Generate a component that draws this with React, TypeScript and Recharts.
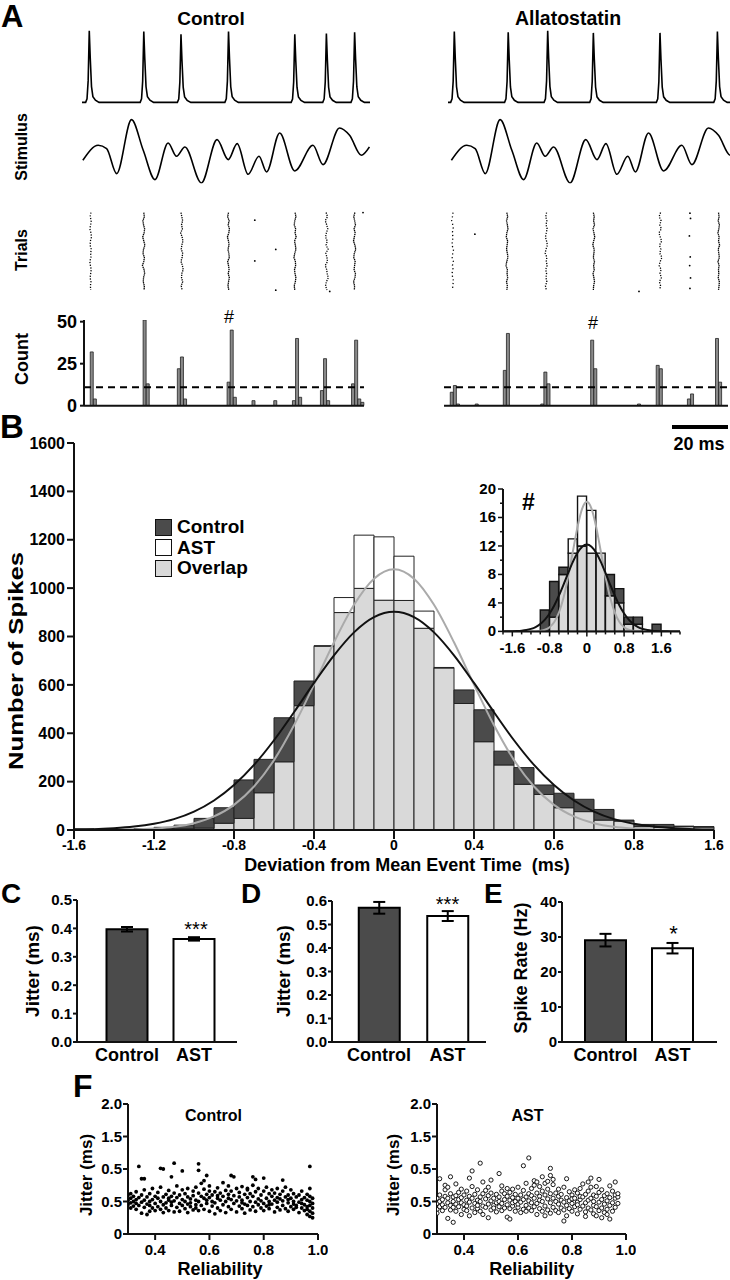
import React from 'react';
import {
  ComposedChart, LineChart, BarChart, ScatterChart, Line, Bar, Scatter, Cell,
  XAxis, YAxis, ReferenceLine, ErrorBar, Legend,
} from 'recharts';

const FONT = "'Liberation Sans', Arial, Helvetica, sans-serif";
const INK = '#111';
const DARK = '#4b4b4b';
const LIGHT = '#d9d9d9';
const FIT_GREY = '#aaaaaa';
const COUNT_GREY = '#8a8a8a';

// ---------- A: voltage traces (ms, % of spike height) ----------
const ctrlSpikeTimes = [2.6, 22.1, 35.4, 52.4, 76.1, 87.4, 97.5];
const ctrlSpikePeaks = [99, 98, 94, 98, 94, 95, 97];
const astSpikeTimes = [2.25, 21.5, 35.6, 51.9, 75.7, 96.2];
const astSpikePeaks = [98, 97, 99, 96, 96, 98];
// spike waveform: ms from peak, fraction of peak
const spikeShapeT = [-1.3, -0.8, -0.4, 0, 0.35, 0.8, 1.3, 2.2, 3.5];
const spikeShapeV = [0, 0.05, 0.3, 1, 0.62, 0.22, 0.08, 0.03, 0];

// ---------- A: stimulus ----------
const stimT = [0.3, 5.8, 8.8, 12.4, 17.7, 21.9, 26.1, 30.8, 33.8, 36.8, 42.7, 48.3, 52.3, 55.5, 59.4, 63.3, 66.0, 70.7, 76.1, 82.6, 86.2, 92.1, 95.7, 99.9, 102.8];
const stimV = [7.0, 11.5, 10.5, 3.0, 19.2, 10.0, 1.2, 12.2, 8.2, 11.0, 0.2, 13.2, 7.2, 12.0, 2.8, 8.2, 3.5, 15.2, 3.8, 11.5, 5.7, 16.7, 14.5, 8.5, 11.0];

// ---------- A: rasters (spike time per trial, ms offsets from column time) ----------
const ctrlRaster = [
  { t: 3.0, dash: '1.2 1.6', jit: [0.2, -0.1, 0.3, 0.1, -0.2, 0.2, 0.4, 0.0, -0.1, 0.3, 0.1, 0.2, -0.2, 0.0, 0.3, 0.1, -0.1, 0.2, 0.0, 0.1] },
  { t: 22.0, dash: '1.4 0.6', jit: [0.1, 0.3, -0.2, 0.0, 0.4, 0.2, -0.3, 0.1, 0.5, 0.0, -0.2, 0.3, 0.1, -0.4, 0.2, 0.4, 0.0, -0.1, 0.3, 0.2] },
  { t: 35.6, dash: '1.3 1', jit: [-0.2, 0.1, 0.4, 0.0, 0.3, -0.3, 0.2, 0.5, 0.1, -0.1, 0.4, 0.2, -0.2, 0.3, 0.6, 0.1, 0.0, 0.4, -0.1, 0.2] },
  { t: 52.4, dash: '1.4 0.6', jit: [0.0, -0.3, 0.2, -0.1, 0.3, 0.1, -0.4, 0.0, 0.2, -0.2, 0.1, 0.3, -0.3, 0.0, 0.2, -0.1, 0.3, 0.0, -0.2, 0.1] },
  { t: 76.1, dash: '1.4 0.6', jit: [0.1, 0.4, 0.0, -0.2, 0.3, 0.1, 0.5, -0.1, 0.2, 0.4, 0.0, -0.3, 0.2, 0.3, -0.1, 0.1, 0.4, 0.2, -0.2, 0.0] },
  { t: 87.3, dash: '1.2 1.2', jit: [0.0, 0.5, -0.3, 0.2, 0.6, 0.1, -0.2, 0.4, 0.0, 0.7, -0.1, 0.3, 0.5, -0.3, 0.2, 0.4, 0.8, 0.1, -0.2, 0.3] },
  { t: 97.4, dash: '1.4 0.6', jit: [0.2, -0.2, 0.1, 0.4, -0.1, 0.3, 0.0, -0.3, 0.2, 0.5, 0.0, -0.2, 0.3, 0.1, -0.1, 0.4, 0.2, -0.3, 0.1, 0.0] },
];
const ctrlRasterDots = [[61.8, 8], [61.8, 40], [69.3, 31], [69.3, 63], [100.5, 2], [88.6, 64]];
const astRaster = [
  { t: 1.6, dash: '1.2 2.6', jit: [0.2, 0.0, -0.3, 0.1, 0.3, -0.1, 0.2, 0.0, -0.2, 0.4, 0.1, -0.1, 0.3, 0.0, 0.2, -0.2, 0.1, 0.4, 0.0, 0.2] },
  { t: 21.0, dash: '1.4 0.6', jit: [0.0, 0.3, -0.1, 0.2, 0.4, 0.0, -0.2, 0.3, 0.1, -0.1, 0.2, 0.4, 0.0, -0.3, 0.2, 0.1, 0.3, -0.1, 0.2, 0.0] },
  { t: 35.0, dash: '1.2 1.4', jit: [0.2, -0.1, 0.3, 0.0, 0.4, 0.1, -0.2, 0.2, 0.5, 0.0, -0.3, 0.3, 0.1, 0.4, -0.1, 0.2, 0.0, 0.3, -0.2, 0.1] },
  { t: 52.0, dash: '1.4 0.6', jit: [-0.1, 0.2, 0.0, 0.3, -0.2, 0.1, 0.4, 0.0, -0.3, 0.2, 0.1, -0.1, 0.3, 0.0, 0.2, -0.2, 0.1, 0.3, 0.0, -0.1] },
  { t: 75.6, dash: '1.2 1.4', jit: [0.3, -0.2, 0.5, 0.0, 0.6, -0.3, 0.2, 0.7, -0.1, 0.4, 0.0, 0.8, 0.2, -0.2, 0.5, 0.1, 0.6, -0.1, 0.3, 0.0] },
  { t: 96.6, dash: '1.4 0.6', jit: [0.0, 0.2, -0.1, 0.3, 0.1, -0.2, 0.2, 0.0, 0.4, -0.1, 0.1, 0.3, -0.2, 0.2, 0.0, 0.1, -0.1, 0.3, 0.2, 0.0] },
];
const astRasterDots = [[9.6, 19], [68.2, 64], [86.4, 2.5], [86.6, 6.6], [86.2, 20.4], [86.5, 36.9], [86.3, 43.7], [86.6, 53.4], [86.4, 61.6]];

// ---------- A: spike count histograms (bin index, count) ----------
const ctrlCountBins = 90;
const ctrlCountHits = [[2, 32], [3, 4], [19, 51], [20, 13], [30, 22], [31, 29], [32, 4], [46, 14], [47, 45], [48, 5], [54, 3], [61, 3], [67, 3], [68, 40], [69, 5], [76, 9], [77, 28], [78, 3], [86, 13], [87, 39], [88, 4], [89, 2]];
const astCountBins = 91;
const astCountHits = [[2, 8], [3, 12], [4, 1], [10, 1], [19, 21], [20, 43], [31, 1], [32, 20], [33, 13], [47, 39], [48, 22], [62, 1], [68, 24], [69, 22], [78, 4], [79, 7], [87, 40], [88, 14]];
const countThreshold = 11;
const countTicks = [0, 25, 50];

// ---------- B: deviation histogram ----------
const bBinEdges = [-1.6, -1.5, -1.4, -1.3, -1.2, -1.1, -1.0, -0.9, -0.8, -0.7, -0.6, -0.5, -0.4, -0.3, -0.2, -0.1, 0, 0.1, 0.2, 0.3, 0.4, 0.5, 0.6, 0.7, 0.8, 0.9, 1.0, 1.1, 1.2, 1.3, 1.4, 1.5];
const bCtrl = [4, 3, 3, 6, 11, 20, 48, 92, 207, 292, 464, 616, 760, 899, 999, 950, 949, 834, 670, 579, 497, 326, 258, 186, 152, 127, 85, 41, 23, 23, 16, 14];
const bAst = [3, 2, 2, 4, 6, 5, 8, 28, 48, 154, 282, 514, 762, 961, 1219, 1212, 1132, 905, 672, 523, 365, 269, 189, 147, 92, 76, 41, 37, 14, 11, 14, 12];
const bFitX = [-1.6, -1.5, -1.4, -1.3, -1.2, -1.1, -1.0, -0.9, -0.8, -0.7, -0.6, -0.5, -0.4, -0.3, -0.2, -0.1, 0, 0.1, 0.2, 0.3, 0.4, 0.5, 0.6, 0.7, 0.8, 0.9, 1.0, 1.1, 1.2, 1.3, 1.4, 1.5, 1.6];
const bCtrlFit = [2, 3, 7, 14, 26, 45, 76, 122, 186, 269, 371, 487, 608, 722, 817, 880, 902, 880, 817, 722, 608, 487, 371, 269, 186, 122, 76, 45, 26, 14, 7, 3, 2];
const bAstFit = [0, 0, 1, 2, 6, 13, 28, 56, 104, 180, 289, 433, 601, 776, 931, 1039, 1078, 1039, 931, 776, 601, 433, 289, 180, 104, 56, 28, 13, 6, 2, 1, 0, 0];
const bXTicks = [-1.6, -1.2, -0.8, -0.4, 0, 0.4, 0.8, 1.2, 1.6];
const bXTickLabels = ['-1.6', '-1.2', '-0.8', '-0.4', '0', '0.4', '0.6', '0.8', '1.6'];
const bYTicks = [0, 200, 400, 600, 800, 1000, 1200, 1400, 1600];
const legendItems = [
  { label: 'Control', fill: DARK },
  { label: 'AST', fill: '#ffffff' },
  { label: 'Overlap', fill: LIGHT },
];

// ---------- B inset (# event) ----------
const insetEdges = [-1.8, -1.6, -1.4, -1.2, -1.0, -0.8, -0.6, -0.4, -0.2, 0, 0.2, 0.4, 0.6, 0.8, 1.0, 1.2, 1.4, 1.6, 1.8];
const insetCtrl = [0, 0, 0, 0, 3, 7, 9, 11, 12, 11, 11, 8, 6, 2, 2, 0, 1, 0, 0];
const insetAst = [0, 0, 0, 0, 0, 2, 8, 13, 19, 17, 11, 5, 4, 1, 1, 0, 0, 0, 0];
const insetFitX = [-1.8, -1.7, -1.6, -1.5, -1.4, -1.3, -1.2, -1.1, -1.0, -0.9, -0.8, -0.7, -0.6, -0.5, -0.4, -0.3, -0.2, -0.1, 0, 0.1, 0.2, 0.3, 0.4, 0.5, 0.6, 0.7, 0.8, 0.9, 1.0, 1.1, 1.2, 1.3, 1.4, 1.5, 1.6, 1.7, 1.8, 1.9, 2.0];
const insetCtrlFit = [0, 0.01, 0.02, 0.05, 0.1, 0.19, 0.35, 0.61, 1.03, 1.65, 2.51, 3.64, 5.02, 6.58, 8.22, 9.77, 11.05, 11.9, 12.2, 11.9, 11.05, 9.77, 8.22, 6.58, 5.02, 3.64, 2.51, 1.65, 1.03, 0.61, 0.35, 0.19, 0.1, 0.05, 0.02, 0.01, 0, 0, 0];
const insetAstFit = [0, 0, 0, 0, 0, 0, 0, 0, 0.08, 0.23, 0.58, 1.31, 2.63, 4.75, 7.7, 11.22, 14.68, 17.25, 18.2, 17.25, 14.68, 11.22, 7.7, 4.75, 2.63, 1.31, 0.58, 0.23, 0.08, 0, 0, 0, 0, 0, 0, 0, 0, 0, 0];
const insetXTicks = [-1.8, -1.6, -1.4, -1.2, -1.0, -0.8, -0.6, -0.4, -0.2, 0, 0.2, 0.4, 0.6, 0.8, 1.0, 1.2, 1.4, 1.6, 1.8, 2.0];
const insetXLabeled = [-1.6, -0.8, 0, 0.8, 1.6];
const insetXLabels = ['-1.6', '-0.8', '0', '0.8', '1.6'];
const insetYTicks = [0, 2, 4, 6, 8, 10, 12, 14, 16, 18, 20];
const insetYLabeled = [0, 4, 8, 12, 16, 20];
const insetYLabels = ['0', '4', '8', '12', '16', '20'];

// ---------- C, D, E ----------
const groups = ['Control', 'AST'];
const jitterCMean = [0.397, 0.363];
const jitterCSem = [0.008, 0.006];
const cTicks = [0, 0.1, 0.2, 0.3, 0.4, 0.5];
const cTickLabels = ['0.0', '0.1', '0.2', '0.3', '0.4', '0.5'];
const jitterDMean = [0.571, 0.536];
const jitterDSem = [0.025, 0.021];
const dTicks = [0, 0.1, 0.2, 0.3, 0.4, 0.5, 0.6];
const dTickLabels = ['0.0', '0.1', '0.2', '0.3', '0.4', '0.5', '0.6'];
const rateMean = [29.1, 26.8];
const rateSem = [1.8, 1.5];
const eTicks = [0, 10, 20, 30, 40];
const eTickLabels = ['0', '10', '20', '30', '40'];
const groupFills = [DARK, '#ffffff'];

// ---------- F: jitter vs reliability (reliability, jitters at that reliability) ----------
const fCtrl: [number, number[]][] = [
  [0.30, [0.45, 0.52, 0.60]], [0.31, [0.40, 0.55, 0.48, 0.62]], [0.32, [0.43, 0.50, 0.58]], [0.33, [0.38, 0.47, 0.65, 0.53]],
  [0.34, [1.04, 0.44, 0.56]], [0.35, [0.32, 0.49, 0.60, 0.85]], [0.36, [0.41, 0.52, 0.85, 0.68]], [0.37, [0.30, 0.46, 0.57]],
  [0.38, [0.35, 0.50, 0.62, 0.44]], [0.39, [0.40, 0.53, 0.70]], [0.40, [0.47, 0.58, 0.36]], [0.41, [0.42, 0.55, 0.64]],
  [0.42, [1.01, 0.38, 0.50, 0.72]], [0.43, [1.00, 0.45, 0.57, 0.33]], [0.44, [0.48, 0.61, 0.40]], [0.45, [0.36, 0.52, 0.67, 0.55]],
  [0.46, [0.88, 0.44, 0.58, 0.49]], [0.47, [1.09, 0.34, 0.51, 0.63]], [0.48, [0.41, 0.56, 0.74]], [0.49, [0.35, 0.47, 0.60]],
  [0.50, [0.97, 0.44, 0.53, 0.68]], [0.51, [0.39, 0.50, 0.62]], [0.52, [0.33, 0.46, 0.57, 0.70]], [0.53, [0.42, 0.54, 0.48]],
  [0.54, [0.37, 0.59, 0.66]], [0.55, [0.45, 0.52, 0.72, 0.40]], [0.56, [1.08, 0.98, 0.50, 0.63, 0.36]], [0.57, [0.44, 0.58, 0.78]],
  [0.58, [0.38, 0.55, 0.69, 0.82]], [0.59, [0.90, 0.47, 0.61, 0.52]], [0.60, [0.35, 0.56, 0.74, 0.66]], [0.61, [0.43, 0.60, 0.50]],
  [0.62, [0.31, 0.48, 0.65]], [0.63, [0.40, 0.55, 0.71, 0.59]], [0.64, [0.36, 0.52, 0.63]], [0.65, [0.45, 0.58, 0.79]],
  [0.66, [0.33, 0.50, 0.67]], [0.67, [0.42, 0.61, 0.74, 0.55]], [0.68, [0.90, 0.38, 0.53, 0.66]], [0.69, [0.88, 0.47, 0.59]],
  [0.70, [0.34, 0.51, 0.70]], [0.71, [0.43, 0.57, 0.64]], [0.72, [0.39, 0.52, 0.73, 0.48]], [0.73, [0.32, 0.46, 0.61]],
  [0.74, [0.44, 0.56, 0.68, 0.70]], [0.75, [0.37, 0.50, 0.62]], [0.76, [0.42, 0.58, 0.75, 0.88]], [0.77, [0.35, 0.49, 0.65, 0.84]],
  [0.78, [0.45, 0.54, 0.70]], [0.79, [0.40, 0.60, 0.51]], [0.80, [0.86, 0.36, 0.47, 0.66]], [0.81, [0.43, 0.55, 0.72]],
  [0.82, [0.39, 0.50, 0.62, 0.45]], [0.83, [0.46, 0.58, 0.68]], [0.84, [0.34, 0.52, 0.63]], [0.85, [0.41, 0.49, 0.70, 0.56]],
  [0.86, [0.37, 0.54, 0.61]], [0.87, [0.44, 0.51, 0.66, 0.83]], [0.88, [0.39, 0.57, 0.72]], [0.89, [0.35, 0.48, 0.60, 0.53]],
  [0.90, [0.42, 0.55, 0.68]], [0.91, [0.38, 0.50, 0.62, 0.46]], [0.92, [0.44, 0.57, 0.41]], [0.93, [0.33, 0.49, 0.60]],
  [0.94, [0.40, 0.53, 0.66, 0.47]], [0.95, [0.36, 0.45, 0.56]], [0.96, [0.30, 0.42, 0.52, 0.61, 0.38]],
  [0.97, [1.04, 0.27, 0.35, 0.44, 0.50, 0.58, 0.70]], [0.98, [0.25, 0.32, 0.40, 0.47, 0.55]],
];
const fAst: [number, number[]][] = [
  [0.30, [0.38, 0.47, 0.55, 0.32]], [0.31, [0.85, 0.42, 0.60, 0.50]], [0.32, [0.36, 0.53, 0.45]], [0.33, [0.41, 0.58, 0.68, 0.75]],
  [0.34, [0.24, 0.48, 0.55, 0.72]], [0.35, [0.88, 0.37, 0.44, 0.62]], [0.36, [0.18, 0.50, 0.41, 0.57]], [0.37, [0.35, 0.46, 0.59, 0.77]],
  [0.38, [0.42, 0.53, 0.64]], [0.39, [0.30, 0.48, 0.56, 0.69]], [0.40, [0.38, 0.45, 0.60]], [0.41, [0.43, 0.52, 0.66, 0.36]],
  [0.42, [0.28, 0.49, 0.58, 0.86]], [0.43, [0.97, 0.40, 0.55, 0.73]], [0.44, [0.33, 0.47, 0.61]], [0.45, [0.39, 0.52, 0.68, 0.44]],
  [0.46, [1.09, 0.35, 0.57, 0.50]], [0.47, [0.30, 0.43, 0.62, 0.80]], [0.48, [0.41, 0.54, 0.67]], [0.49, [0.25, 0.46, 0.59, 0.72]],
  [0.50, [0.37, 0.51, 0.63, 0.83]], [0.51, [0.44, 0.55, 0.40]], [0.52, [0.34, 0.48, 0.61]], [0.53, [0.93, 0.42, 0.57, 0.50]],
  [0.54, [0.36, 0.47, 0.66, 0.74]], [0.55, [0.40, 0.53, 0.62]], [0.56, [0.26, 0.45, 0.58, 0.70]], [0.57, [0.23, 0.39, 0.52, 0.64]],
  [0.58, [0.43, 0.56, 0.69, 0.48]], [0.59, [0.35, 0.50, 0.61]], [0.60, [0.41, 0.55, 0.72, 0.46]], [0.61, [0.33, 0.49, 0.60]],
  [0.62, [1.05, 0.38, 0.53, 0.67]], [0.63, [0.44, 0.57, 0.78, 0.35]], [0.64, [1.17, 0.40, 0.51, 0.62]], [0.65, [0.36, 0.48, 0.70, 0.59]],
  [0.66, [0.42, 0.55, 0.82, 0.75]], [0.67, [0.30, 0.47, 0.63, 0.80]], [0.68, [0.39, 0.58, 0.73, 0.52]], [0.69, [0.35, 0.50, 0.66, 0.88]],
  [0.70, [0.43, 0.60, 0.78, 0.28]], [0.71, [0.37, 0.54, 0.69, 0.81]], [0.72, [1.01, 0.32, 0.48, 0.62, 0.90]], [0.73, [0.41, 0.55, 0.84, 0.76]],
  [0.74, [0.36, 0.50, 0.63]], [0.75, [0.33, 0.46, 0.58, 0.69]], [0.76, [0.40, 0.52, 0.61]], [0.77, [0.20, 0.37, 0.49, 0.72]],
  [0.78, [0.28, 0.44, 0.56, 0.85]], [0.79, [0.39, 0.51, 0.65]], [0.80, [0.35, 0.47, 0.60, 0.54]], [0.81, [0.42, 0.55, 0.68]],
  [0.82, [0.31, 0.49, 0.63, 0.45]], [0.83, [0.38, 0.53, 0.70, 0.58]], [0.84, [0.43, 0.57, 0.77]], [0.85, [0.34, 0.48, 0.61, 0.27]],
  [0.86, [0.40, 0.52, 0.66, 0.80]], [0.87, [0.37, 0.55, 0.72, 0.86]], [0.88, [0.31, 0.44, 0.60, 0.50]], [0.89, [0.28, 0.42, 0.58, 0.73]],
  [0.90, [0.36, 0.49, 0.64, 0.84]], [0.91, [0.25, 0.40, 0.53, 0.68]], [0.92, [0.33, 0.46, 0.59]], [0.93, [0.38, 0.51, 0.62, 0.30]],
  [0.94, [0.23, 0.44, 0.56, 0.74]], [0.95, [0.35, 0.48, 0.66]], [0.96, [0.41, 0.55, 0.80, 0.60]], [0.97, [0.47, 0.57, 0.62]],
];
const fXTicks = [0.4, 0.6, 0.8, 1.0];
const fXTickLabels = ['0.4', '0.6', '0.8', '1.0'];
const fYTicks = [0, 0.5, 1, 1.5, 2];
const fYTickLabels = ['0', '0.5', '0.5', '1.5', '2.0'];

// ---------- tables built from the arrays ----------
const buildTrace = (times: number[], peaks: number[], end: number) => {
  const pts = [{ t: 0, v: 0 }];
  times.forEach((ts, i) => spikeShapeT.forEach((dt, k) => pts.push({ t: ts + dt, v: spikeShapeV[k] * peaks[i] })));
  pts.push({ t: end, v: 0 });
  return pts;
};
const ctrlTrace = buildTrace(ctrlSpikeTimes, ctrlSpikePeaks, 103);
const astTrace = buildTrace(astSpikeTimes, astSpikePeaks, 100.7);
const stimData = stimT.map((t, i) => ({ t, v: stimV[i] }));
const rasterLine = (col: { t: number; jit: number[] }) => col.jit.map((j, i) => ({ t: col.t + j, trial: 2 + i * 3.2 }));
const dotsData = (d: number[][]) => d.map(([t, trial]) => ({ t, trial }));
const countData = (n: number, hits: number[][]) => {
  const arr = Array.from({ length: n }, (_, i) => ({ bin: i, n: 0 }));
  hits.forEach(([i, c]) => { arr[i].n = c; });
  return arr;
};
const ctrlCounts = countData(ctrlCountBins, ctrlCountHits);
const astCounts = countData(astCountBins, astCountHits);
const overlapRows = (edges: number[], c: number[], a: number[]) => edges.map((e, i) => ({
  bin: e,
  overlap: Math.min(c[i], a[i]),
  excess: Math.abs(c[i] - a[i]),
  excessFill: c[i] > a[i] ? DARK : '#ffffff',
}));
const histData = overlapRows(bBinEdges, bCtrl, bAst);
const insetData = overlapRows(insetEdges, insetCtrl, insetAst);
const curve = (xs: number[], vs: number[]) => xs.map((x, i) => ({ x, v: vs[i] }));
const groupRows = (mean: number[], sem: number[]) => groups.map((g, i) => ({ group: g, mean: mean[i], sem: sem[i] }));
const flatScatter = (d: [number, number[]][]) => d.flatMap(([rel, js]) => js.map((jit) => ({ rel, jit })));

// ---------- layout helpers ----------
const frame = (x0: number, y0: number, x1: number, y1: number, yw = 0, xh = 0, pad = 6) => ({
  style: { position: 'absolute' as const, left: x0 - yw - pad, top: y0 - pad },
  width: x1 - x0 + yw + 2 * pad,
  height: y1 - y0 + xh + 2 * pad,
  margin: { top: pad, right: pad, bottom: pad, left: pad },
});
const axisStyle = { stroke: INK, strokeWidth: 2 };
const tickFont = (size: number) => ({ fill: '#000', fontFamily: FONT, fontWeight: 'bold' as const, fontSize: size });

const NoDot = () => <g />;
const RasterDot = (p: any) => <circle cx={p.cx} cy={p.cy} r={0.9} fill="#000" />;
const FilledDot = (p: any) => <circle cx={p.cx} cy={p.cy} r={1.9} fill="#000" />;
const OpenDot = (p: any) => <circle cx={p.cx} cy={p.cy} r={2.1} fill="#fff" stroke="#000" strokeWidth={0.9} />;

const InsetXTick = (p: any) => {
  const k = insetXLabeled.indexOf(p.payload.value);
  return (
    <g>
      <line x1={p.x} y1={p.y} x2={p.x} y2={p.y + (k >= 0 ? 5 : 3)} stroke={INK} strokeWidth={1.5} />
      {k >= 0 && (
        <text x={p.x} y={p.y + 22} textAnchor="middle" fontSize={15} fontWeight="bold" fontFamily={FONT} fill="#000">{insetXLabels[k]}</text>
      )}
    </g>
  );
};
const InsetYTick = (p: any) => {
  const k = insetYLabeled.indexOf(p.payload.value);
  return (
    <g>
      <line x1={p.x - (k >= 0 ? 5 : 3)} y1={p.y} x2={p.x} y2={p.y} stroke={INK} strokeWidth={1.5} />
      {k >= 0 && (
        <text x={p.x - 7} y={p.y + 5} textAnchor="end" fontSize={15} fontWeight="bold" fontFamily={FONT} fill="#000">{insetYLabels[k]}</text>
      )}
    </g>
  );
};

const HistLegend = () => (
  <div style={{ fontFamily: FONT, fontWeight: 'bold', fontSize: 19, color: '#000' }}>
    {legendItems.map((it) => (
      <div key={it.label} style={{ display: 'flex', alignItems: 'center', height: 20.5 }}>
        <span style={{ display: 'inline-block', width: 15, height: 15, background: it.fill, border: '1.5px solid #111', marginRight: 5 }} />
        {it.label}
      </div>
    ))}
  </div>
);

const Label = ({ x, y, size, children, anchor = 'middle', rotate = false, weight = 'bold', len }: any) => (
  <text
    x={x} y={y} fontSize={size} fontWeight={weight} textAnchor={anchor} fontFamily={FONT} fill="#000"
    transform={rotate ? `rotate(-90 ${x} ${y})` : undefined}
    textLength={len} lengthAdjust={len ? 'spacingAndGlyphs' : undefined}
    style={{ whiteSpace: 'pre' }}
  >
    {children}
  </text>
);

// ---------- chart pieces ----------
const Trace = ({ f, data, domain }: any) => (
  <div style={f.style}>
    <LineChart width={f.width} height={f.height} margin={f.margin} data={data}>
      <XAxis type="number" dataKey="t" domain={domain} hide allowDataOverflow />
      <YAxis type="number" domain={[-5, 100]} hide allowDataOverflow />
      <Line type="linear" dataKey="v" stroke="#000" strokeWidth={1.6} dot={false} isAnimationActive={false} />
    </LineChart>
  </div>
);

const Stim = ({ f, domain }: any) => (
  <div style={f.style}>
    <LineChart width={f.width} height={f.height} margin={f.margin} data={stimData}>
      <XAxis type="number" dataKey="t" domain={domain} hide allowDataOverflow />
      <YAxis type="number" domain={[0, 20]} hide allowDataOverflow />
      <Line type="monotone" dataKey="v" stroke="#000" strokeWidth={1.6} dot={false} isAnimationActive={false} />
    </LineChart>
  </div>
);

const Raster = ({ f, cols, dots, domain }: any) => (
  <div style={f.style}>
    <ScatterChart width={f.width} height={f.height} margin={f.margin}>
      <XAxis type="number" dataKey="t" domain={domain} hide allowDataOverflow />
      <YAxis type="number" dataKey="trial" domain={[0, 66]} reversed hide allowDataOverflow />
      {cols.map((col: any, i: number) => (
        <Scatter key={i} data={rasterLine(col)} shape={NoDot} line={{ stroke: '#000', strokeWidth: 1.3, strokeDasharray: col.dash }} isAnimationActive={false} />
      ))}
      <Scatter data={dotsData(dots)} shape={RasterDot} isAnimationActive={false} />
    </ScatterChart>
  </div>
);

const Counts = ({ f, data, showY }: any) => (
  <div style={f.style}>
    <BarChart width={f.width} height={f.height} margin={f.margin} data={data} barCategoryGap={0} barGap={0}>
      <XAxis dataKey="bin" tick={false} tickLine={false} axisLine={axisStyle} height={2} />
      <YAxis
        domain={[0, 51]} ticks={countTicks} interval={0} width={showY ? 40 : 0} hide={!showY}
        tickSize={4} tickMargin={3} axisLine={axisStyle} tickLine={axisStyle} tick={tickFont(18)} allowDataOverflow
      />
      <Bar dataKey="n" fill={COUNT_GREY} stroke="#222" strokeWidth={0.8} isAnimationActive={false} />
      <ReferenceLine y={countThreshold} stroke="#000" strokeWidth={2} strokeDasharray="7 5" />
    </BarChart>
  </div>
);

const GroupBars = ({ f, data, domain, ticks, labels, pad }: any) => (
  <div style={f.style}>
    <BarChart width={f.width} height={f.height} margin={f.margin} data={data} barCategoryGap={0}>
      <XAxis dataKey="group" tickLine={false} axisLine={axisStyle} tick={tickFont(18)} tickSize={4} tickMargin={2} height={30} padding={pad} interval={0} />
      <YAxis
        domain={domain} ticks={ticks} interval={0} width={50} tickSize={4} tickMargin={1}
        tickFormatter={(_v: number, i: number) => labels[i]} axisLine={axisStyle} tickLine={axisStyle} tick={tickFont(15)} allowDataOverflow
      />
      <Bar dataKey="mean" barSize={41} stroke="#000" strokeWidth={2} isAnimationActive={false}>
        {data.map((_d: any, i: number) => <Cell key={i} fill={groupFills[i]} />)}
        <ErrorBar dataKey="sem" width={6} strokeWidth={2} stroke="#000" />
      </Bar>
    </BarChart>
  </div>
);

const JitterScatter = ({ f, data, shape }: any) => (
  <div style={f.style}>
    <ScatterChart width={f.width} height={f.height} margin={f.margin}>
      <XAxis
        type="number" dataKey="rel" domain={[0.3, 1]} ticks={fXTicks} interval={0} height={30}
        tickFormatter={(_v: number, i: number) => fXTickLabels[i]} tickSize={6} tickMargin={4}
        axisLine={axisStyle} tickLine={axisStyle} tick={tickFont(15)} allowDataOverflow
      />
      <YAxis
        type="number" dataKey="jit" domain={[0, 2]} ticks={fYTicks} interval={0} width={45}
        tickFormatter={(_v: number, i: number) => fYTickLabels[i]} tickSize={5} tickMargin={1}
        axisLine={axisStyle} tickLine={axisStyle} tick={tickFont(15)} allowDataOverflow
      />
      <Scatter data={data} shape={shape} isAnimationActive={false} />
    </ScatterChart>
  </div>
);

export default function App() {
  const fVc = frame(82, 30, 370, 106, 0, 0, 4);
  const fVa = frame(448, 30, 730, 106, 0, 0, 4);
  const fSc = frame(82, 116.7, 370, 183.3, 0, 0, 4);
  const fSa = frame(448, 116.7, 730, 183.3, 0, 0, 4);
  const fRc = frame(82, 210, 370, 294, 0, 0, 4);
  const fRa = frame(448, 210, 730, 294, 0, 0, 4);
  const fCc = frame(84, 320.3, 364, 406, 40, 2, 8);
  const fCa = frame(444, 320.3, 728, 406, 0, 2, 8);
  const fB = frame(74, 443, 714, 830, 55, 26, 20);
  const fIn = frame(503, 489.3, 680, 631.7, 30, 25, 10);
  const fC = frame(77, 900, 237, 1042, 50, 30, 10);
  const fD = frame(332, 901, 486, 1042, 50, 30, 10);
  const fE = frame(562, 902, 717, 1042, 50, 30, 10);
  const fFc = frame(128, 1104, 318, 1234, 45, 30, 10);
  const fFa = frame(437, 1104, 626, 1234, 45, 30, 10);

  return (
    <div style={{ position: 'absolute', left: 0, top: 0, width: 730, height: 1280, overflow: 'hidden', background: '#fff', fontFamily: FONT }}>
      {/* A: traces, stimulus, rasters, counts */}
      <Trace f={fVc} data={ctrlTrace} domain={[0, 103]} />
      <Trace f={fVa} data={astTrace} domain={[0, 100.7]} />
      <Stim f={fSc} domain={[0, 103]} />
      <Stim f={fSa} domain={[-0.9, 99.8]} />
      <Raster f={fRc} cols={ctrlRaster} dots={ctrlRasterDots} domain={[0, 103]} />
      <Raster f={fRa} cols={astRaster} dots={astRasterDots} domain={[0, 100.7]} />
      <Counts f={fCc} data={ctrlCounts} showY />
      <Counts f={fCa} data={astCounts} showY={false} />

      {/* B: deviation histogram */}
      <div style={fB.style}>
        <ComposedChart width={fB.width} height={fB.height} margin={fB.margin} data={histData} barCategoryGap={0} barGap={0}>
          <XAxis xAxisId="bins" dataKey="bin" orientation="top" height={0} hide />
          <XAxis
            xAxisId="num" type="number" dataKey="x" domain={[-1.6, 1.6]} ticks={bXTicks} interval={0} height={26}
            tickFormatter={(_v: number, i: number) => bXTickLabels[i]} tickSize={9} tickMargin={1}
            axisLine={axisStyle} tickLine={axisStyle} tick={tickFont(14)} allowDataOverflow
          />
          <YAxis
            domain={[0, 1600]} ticks={bYTicks} interval={0} width={55} tickSize={7} tickMargin={2}
            axisLine={axisStyle} tickLine={axisStyle} tick={tickFont(16)} allowDataOverflow
          />
          <Bar xAxisId="bins" dataKey="overlap" stackId="h" fill={LIGHT} stroke="#222" strokeWidth={1} isAnimationActive={false} />
          <Bar xAxisId="bins" dataKey="excess" stackId="h" stroke="#222" strokeWidth={1} isAnimationActive={false}>
            {histData.map((d, i) => <Cell key={i} fill={d.excessFill} />)}
          </Bar>
          <Line xAxisId="num" data={curve(bFitX, bAstFit)} dataKey="v" type="monotone" stroke={FIT_GREY} strokeWidth={2} dot={false} isAnimationActive={false} />
          <Line xAxisId="num" data={curve(bFitX, bCtrlFit)} dataKey="v" type="monotone" stroke={INK} strokeWidth={2} dot={false} isAnimationActive={false} />
          <Legend
            layout="vertical" align="center" verticalAlign="middle" content={() => <HistLegend />}
            wrapperStyle={{ left: 155 - fB.style.left, top: 517 - fB.style.top, width: 'auto', height: 'auto' }}
          />
        </ComposedChart>
      </div>

      {/* B inset */}
      <div style={fIn.style}>
        <ComposedChart width={fIn.width} height={fIn.height} margin={fIn.margin} data={insetData} barCategoryGap={0} barGap={0}>
          <XAxis xAxisId="bins" dataKey="bin" orientation="top" height={0} hide />
          <XAxis
            xAxisId="num" type="number" dataKey="x" domain={[-1.8, 2.0]} ticks={insetXTicks} interval={0} height={25}
            tickSize={0} tickMargin={0} tickLine={false} tick={<InsetXTick />} axisLine={axisStyle} allowDataOverflow
          />
          <YAxis
            domain={[0, 20]} ticks={insetYTicks} interval={0} width={30} tickSize={0} tickMargin={0}
            tickLine={false} tick={<InsetYTick />} axisLine={axisStyle} allowDataOverflow
          />
          <Bar xAxisId="bins" dataKey="overlap" stackId="h" fill={LIGHT} stroke={INK} strokeWidth={1.4} isAnimationActive={false} />
          <Bar xAxisId="bins" dataKey="excess" stackId="h" stroke={INK} strokeWidth={1.4} isAnimationActive={false}>
            {insetData.map((d, i) => <Cell key={i} fill={d.excessFill} />)}
          </Bar>
          <Line xAxisId="num" data={curve(insetFitX, insetAstFit)} dataKey="v" type="monotone" stroke={FIT_GREY} strokeWidth={2} dot={false} isAnimationActive={false} />
          <Line xAxisId="num" data={curve(insetFitX, insetCtrlFit)} dataKey="v" type="monotone" stroke={INK} strokeWidth={2} dot={false} isAnimationActive={false} />
        </ComposedChart>
      </div>

      {/* C, D, E */}
      <GroupBars f={fC} data={groupRows(jitterCMean, jitterCSem)} domain={[0, 0.5]} ticks={cTicks} labels={cTickLabels} pad={{ left: 16.5, right: 9.5 }} />
      <GroupBars f={fD} data={groupRows(jitterDMean, jitterDSem)} domain={[0, 0.6]} ticks={dTicks} labels={dTickLabels} pad={{ left: 12.75, right: 4.25 }} />
      <GroupBars f={fE} data={groupRows(rateMean, rateSem)} domain={[0, 40]} ticks={eTicks} labels={eTickLabels} pad={{ left: 10, right: 11 }} />

      {/* F */}
      <JitterScatter f={fFc} data={flatScatter(fCtrl)} shape={FilledDot} />
      <JitterScatter f={fFa} data={flatScatter(fAst)} shape={OpenDot} />

      {/* lettering and annotations */}
      <svg width={730} height={1280} style={{ position: 'absolute', left: 0, top: 0, pointerEvents: 'none' }}>
        <Label x={1} y={27} size={31} anchor="start">A</Label>
        <Label x={211} y={25} size={19}>Control</Label>
        <Label x={568} y={25} size={19.5}>Allatostatin</Label>
        <Label x={27} y={147} size={16} rotate>Stimulus</Label>
        <Label x={27} y={250} size={16} rotate>Trials</Label>
        <Label x={28} y={359} size={18} rotate>Count</Label>
        <Label x={229} y={323} size={18} weight="normal">#</Label>
        <Label x={593} y={329} size={18} weight="normal">#</Label>
        <line x1={672} y1={427} x2={728} y2={427} stroke="#000" strokeWidth={4} />
        <Label x={699} y={450} size={18}>20 ms</Label>

        <Label x={0} y={438} size={33} anchor="start">B</Label>
        <Label x={23} y={661} size={20} rotate len={218}>Number of Spikes</Label>
        <Label x={407} y={871} size={18}>{'Deviation from Mean Event Time  (ms)'}</Label>
        <Label x={528.5} y={510} size={23}>#</Label>

        <Label x={1} y={903} size={28} anchor="start">C</Label>
        <Label x={241} y={903} size={28} anchor="start">D</Label>
        <Label x={484} y={903} size={28} anchor="start">E</Label>
        <Label x={38.5} y={971} size={19} rotate>Jitter (ms)</Label>
        <Label x={290} y={971} size={19} rotate>Jitter (ms)</Label>
        <Label x={526.5} y={968} size={18} rotate>Spike Rate (Hz)</Label>
        <Label x={196} y={936} size={20} weight="normal">***</Label>
        <Label x={447.5} y={911} size={20} weight="normal">***</Label>
        <Label x={673.5} y={941} size={22} weight="normal">*</Label>

        <Label x={73} y={1097} size={32} anchor="start">F</Label>
        <Label x={213.5} y={1121} size={16}>Control</Label>
        <Label x={527.5} y={1121} size={16}>AST</Label>
        <Label x={92} y={1175} size={17} rotate>Jitter (ms)</Label>
        <Label x={399} y={1175} size={17} rotate>Jitter (ms)</Label>
        <Label x={220} y={1275} size={18}>Reliability</Label>
        <Label x={531.7} y={1275} size={18}>Reliability</Label>
      </svg>
    </div>
  );
}
